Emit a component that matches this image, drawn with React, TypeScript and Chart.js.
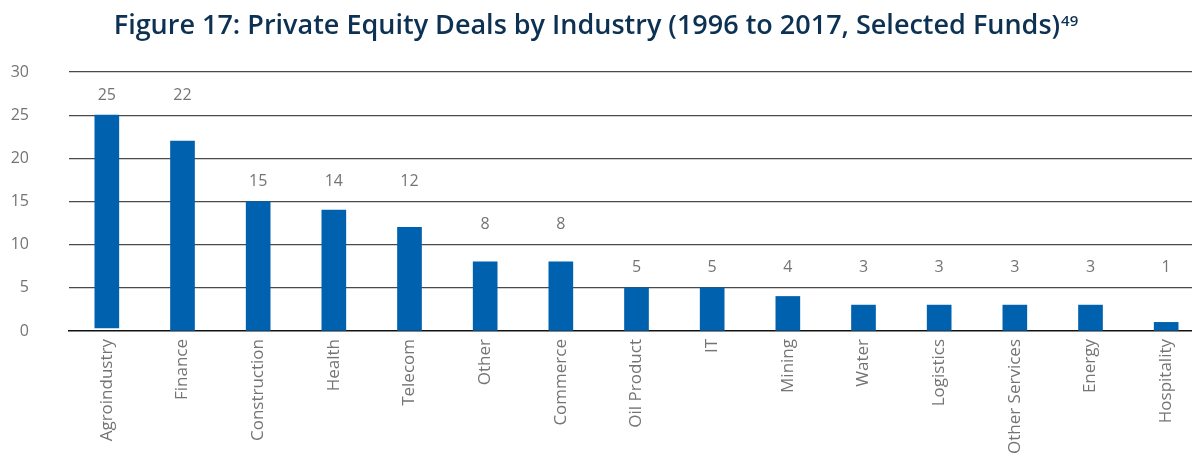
import React, { useEffect, useRef } from "react";
import { Chart, registerables } from "chart.js";

Chart.register(...registerables);

const titleText = "Figure 17: Private Equity Deals by Industry (1996 to 2017, Selected Funds)";
const titleNote = "49";

const categories = [
  "Agroindustry",
  "Finance",
  "Construction",
  "Health",
  "Telecom",
  "Other",
  "Commerce",
  "Oil Product",
  "IT",
  "Mining",
  "Water",
  "Logistics",
  "Other Services",
  "Energy",
  "Hospitality",
];

const dealCounts = [25, 22, 15, 14, 12, 8, 8, 5, 5, 4, 3, 3, 3, 3, 1];
// the first bar in the reference does not quite reach the baseline
const barStarts = [0.35, 0, 0, 0, 0, 0, 0, 0, 0, 0, 0, 0, 0, 0, 0];

const yTicks = [0, 5, 10, 15, 20, 25, 30];

const BAR_COLOR = "#0061ae";
const TITLE_COLOR = "#0d3153";
const TEXT_GREY = "#747474";

const LIGHT_FONT = "'Open Sans', 'Noto Sans', sans-serif";
const TITLE_FONT = "'Open Sans', sans-serif";

const titlePlugin = {
  id: "customTitle",
  afterDraw(chart: any) {
    const ctx = chart.ctx;
    ctx.save();
    ctx.fillStyle = TITLE_COLOR;
    ctx.textBaseline = "alphabetic";
    ctx.font = `600 27px ${TITLE_FONT}`;
    const w1 = ctx.measureText(titleText).width;
    ctx.font = `600 15px ${TITLE_FONT}`;
    const w2 = ctx.measureText(titleNote).width;
    const total = w1 + w2 + 1;
    const cx = 1192 / 2;
    const x0 = cx - total / 2;
    ctx.font = `600 27px ${TITLE_FONT}`;
    ctx.textAlign = "left";
    ctx.fillText(titleText, x0, 34);
    ctx.font = `600 15px ${TITLE_FONT}`;
    ctx.fillText(titleNote, x0 + w1 + 1, 26);
    ctx.restore();
  },
};

const valueLabelPlugin = {
  id: "valueLabels",
  afterDatasetsDraw(chart: any) {
    const ctx = chart.ctx;
    const meta = chart.getDatasetMeta(0);
    const yScale = chart.scales.y;
    ctx.save();
    ctx.font = `16px ${LIGHT_FONT}`;
    ctx.fillStyle = TEXT_GREY;
    ctx.textAlign = "center";
    ctx.textBaseline = "middle";
    meta.data.forEach((bar: any, i: number) => {
      const v = dealCounts[i];
      const level = Math.ceil(v / 5) * 5;
      const y = yScale.getPixelForValue(level) - 20;
      ctx.fillText(String(v), bar.x, y);
    });
    ctx.restore();
  },
};

export default function App() {
  const canvasRef = useRef<HTMLCanvasElement | null>(null);

  useEffect(() => {
    const canvas = canvasRef.current;
    if (!canvas) return;
    const chart = new Chart(canvas, {
      type: "bar",
      data: {
        labels: categories,
        datasets: [
          {
            data: dealCounts.map((v, i) => [barStarts[i], v]) as any,
            backgroundColor: BAR_COLOR,
            borderWidth: 0,
            barThickness: 24,
            borderSkipped: false,
          },
        ],
      },
      options: {
        responsive: false,
        animation: false,
        layout: { padding: { top: 72, right: 0, bottom: 0, left: 0 } },
        plugins: {
          legend: { display: false },
          title: { display: false },
          tooltip: { enabled: false },
        },
        scales: {
          x: {
            grid: { display: false, drawTicks: false },
            border: { display: true, color: "#111", width: 1.5 },
            ticks: {
              autoSkip: false,
              minRotation: 90,
              maxRotation: 90,
              padding: 8,
              color: TEXT_GREY,
              font: { family: LIGHT_FONT, size: 17 },
            },
            afterFit(scale: any) {
              scale.height = 126;
            },
          },
          y: {
            min: 0,
            max: 30,
            afterBuildTicks(scale: any) {
              scale.ticks = yTicks.map((v) => ({ value: v }));
            },
            grid: {
              drawTicks: false,
              color: (c: any) => (c.tick && c.tick.value === 0 ? "rgba(0,0,0,0)" : "#4a4a4a"),
              lineWidth: 1.2,
            },
            border: { display: false },
            ticks: {
              padding: 40,
              color: TEXT_GREY,
              font: { family: LIGHT_FONT, size: 16 },
            },
            afterFit(scale: any) {
              scale.width = 69;
            },
          },
        },
      },
      plugins: [titlePlugin, valueLabelPlugin],
    });
    return () => chart.destroy();
  }, []);

  return (
    <div
      style={{
        position: "fixed",
        left: 0,
        top: 0,
        width: 1192,
        height: 457,
        overflow: "hidden",
        background: "#fff",
      }}
    >
      <canvas ref={canvasRef} width={1204} height={457} style={{ display: "block" }} />
    </div>
  );
}
